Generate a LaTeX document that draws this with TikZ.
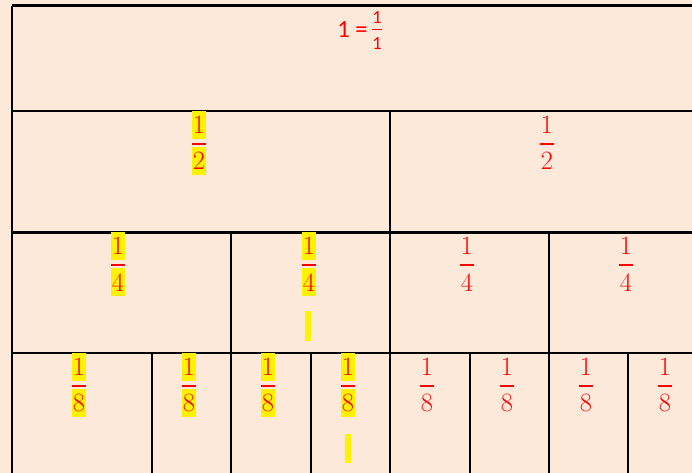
\documentclass[tikz,border=0pt]{standalone}
\usepackage{fontspec}
\newfontfamily\calibri{Carlito}
\usepackage{xcolor}
\definecolor{peach}{HTML}{FDE9D9}
\usetikzlibrary{positioning}

\tikzset{
  gridline/.style={line width=1.2pt, black},
  digit/.style={text=red, inner sep=0pt, font=\fontsize{15}{15}\selectfont},
  small/.style={text=red, inner sep=0pt, font=\calibri\fontsize{10.5}{10.5}\selectfont},
  hl/.style={fill=yellow},
  nohl/.style={},
  fbar/.style={red, line width=1.1pt},
  blank/.style={fill=yellow, draw=none},
}

\begin{document}
\begin{tikzpicture}[x=0.567pt, y=-0.567pt]
  \clip (0,0) rectangle (692,473);
  \fill[peach] (0,0) rectangle (692,473);

  % rows and columns
  \draw[gridline] (12,5.5) -- (710,5.5);
  \draw[gridline] (12,111) -- (710,111);
  \draw[gridline] (12,232.5) -- (710,232.5);
  \draw[gridline] (12,353) -- (710,353);
  \draw[gridline] (12,5.5) -- (12,480);
  \draw[gridline] (390,111) -- (390,480);
  \foreach \x in {231,549} \draw[gridline] (\x,232.5) -- (\x,480);
  \foreach \x in {152,311,470,628} \draw[gridline] (\x,353) -- (\x,480);

  % the whole
  \node[text=red, inner sep=0pt, font=\calibri\fontsize{14}{14}\selectfont] (one) at (352.5,29.5) {1 =};
  \node[small] (onenum) at (377,17.5) {1};
  \node[small] (oneden) at (377,44) {1};
  \draw[red, line width=0.8pt] (372,29.5) -- (382,29.5);

  % halves, quarters, eighths
  \foreach \nm/\x/\y/\d/\hs in {
      h1/199/145.5/2/hl, h2/547/145.5/2/nohl,
      q1/118/266.7/4/hl, q2/309/266.7/4/hl, q3/467/266.7/4/nohl, q4/626/266.7/4/nohl,
      e1/79/387.7/8/hl, e2/189/387.7/8/hl, e3/268/387.7/8/hl, e4/348/387.7/8/hl,
      e5/427/387.7/8/nohl, e6/507/387.7/8/nohl, e7/586/387.7/8/nohl, e8/665/387.7/8/nohl} {
    \node[digit, \hs, minimum width=7.9pt, minimum height=16pt, anchor=south] (\nm-num) at (\x,\y-6) {1};
    \node[digit, \hs, minimum width=7.9pt, minimum height=16pt, anchor=north] (\nm-den) at (\x,\y+1) {\d};
    \draw[fbar] (\nm-den.north west) ++(0,1.5pt) -- ++(7.9pt,0);
  }

  % empty highlighted lines
  \fill[blank] (305,311) rectangle (311,340.5);
  \fill[blank] (345,433.5) rectangle (351,462.5);
\end{tikzpicture}
\end{document}
